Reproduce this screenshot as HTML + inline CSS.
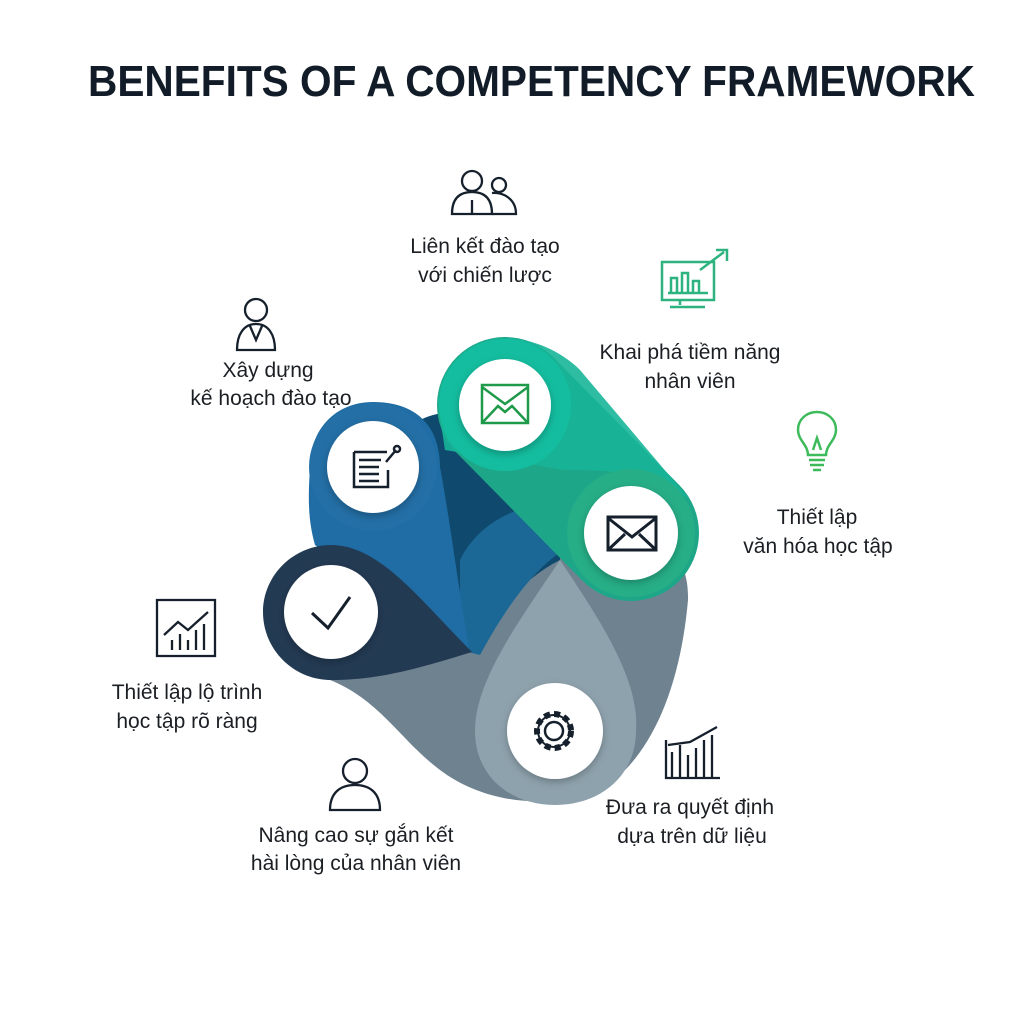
<!DOCTYPE html>
<html><head><meta charset="utf-8"><style>
html,body{margin:0;padding:0;background:#fff;}
svg{display:block}
text{font-family:"Liberation Sans",sans-serif;}
</style></head><body>
<svg width="1024" height="1024" viewBox="0 0 1024 1024" xmlns="http://www.w3.org/2000/svg">
<defs>
<filter id="sh" x="-30%" y="-30%" width="160%" height="160%"><feDropShadow dx="0" dy="3" stdDeviation="4" flood-color="#000" flood-opacity="0.25"/></filter>
<linearGradient id="gr" x1="0" y1="0" x2="1" y2="1"><stop offset="0" stop-color="#14c2a3"/><stop offset="1" stop-color="#2bb083"/></linearGradient>
</defs>
<rect width="1024" height="1024" fill="#fff"/>
<text x="88" y="96" font-size="44" font-weight="bold" fill="#111c28" textLength="887" lengthAdjust="spacingAndGlyphs">BENEFITS OF A COMPETENCY FRAMEWORK</text>

<!-- back gray blob -->
<path d="M330,680 C380,700 400,740 440,770 C480,800 540,812 600,790 C650,760 680,690 688,600 C690,540 640,520 590,540 C520,560 460,620 420,650 C390,670 350,665 330,680 Z" fill="#6f8290"/>
<!-- dark blue middle -->
<path d="M420,420 C460,400 520,420 560,460 L560,560 C520,580 490,620 470,650 L430,640 C420,580 420,480 420,420 Z" fill="#0f4a6e"/>
<path d="M460,560 C480,520 520,505 560,500 L580,540 C540,560 510,600 480,655 L460,650 Z" fill="#1b6897"/>
<!-- blue teardrop -->
<path d="M373,402 C420,402 440,430 440,467 C450,520 460,600 470,652 L315,545 C308,520 308,500 310,467 C310,430 335,402 373,402 Z" fill="#1f6da4"/>
<circle cx="373" cy="467" r="64" fill="#236fa6"/>
<!-- navy teardrop -->
<path d="M331,545 C380,545 420,600 472,652 C420,668 380,680 331,680 C294,680 263,650 263,612 C263,575 294,545 331,545 Z" fill="#233a53"/>
<!-- light gray teardrop -->
<path d="M560,560 C600,620 640,680 636,731 C636,776 600,805 555,805 C510,805 475,776 475,731 C475,680 520,620 560,560 Z" fill="#8ea2ad"/>
<!-- green capsule -->
<line x1="505" y1="405" x2="631" y2="533" stroke="#1ea688" stroke-width="136" stroke-linecap="round"/>
<path d="M445,450 L565,470 C600,470 650,470 690,500 L580,370 C560,350 530,338 505,338 C468,338 438,368 438,405 Z" fill="#17b598" opacity="0.9"/>
<circle cx="505" cy="405" r="66" fill="#14bd9f"/>
<circle cx="631" cy="533" r="64" fill="#26ae87"/>
<!-- white circles -->
<g filter="url(#sh)" fill="#fff">
<circle cx="505" cy="405" r="46"/><circle cx="631" cy="533" r="47"/>
<circle cx="373" cy="467" r="46"/><circle cx="331" cy="612" r="47"/><circle cx="555" cy="731" r="48"/>
</g>
<!-- icons in circles -->
<g fill="none" stroke-width="2.5">
<rect x="482" y="385" width="46" height="38" stroke="#1e9a4a"/><path d="M482,387 L505,404 L528,387 M482,423 L498,406 L505,412 L512,406 L528,423" stroke="#1e9a4a"/>
<rect x="608" y="517" width="48" height="33" stroke="#15202c" stroke-width="3"/><path d="M608,518 L632,537 L656,518 M608,550 L625,534 M656,550 L639,534" stroke="#15202c" stroke-width="3"/>
<path d="M354,452 H387 M354,452 V487 H388 V470 M359,460 H381 M359,467 H379 M359,474 H379 M359,481 H379" stroke="#15202c"/><path d="M386,462 L396,450" stroke="#15202c"/><circle cx="397" cy="449" r="3" stroke="#15202c"/>
<path d="M312,613 L328,628 L350,597" stroke="#15202c" stroke-width="3"/>
<circle cx="554" cy="731" r="9" stroke="#15202c"/><circle cx="554" cy="731" r="17" stroke="#15202c" stroke-dasharray="6 4" stroke-width="6"/><circle cx="554" cy="731" r="16" stroke="#15202c" stroke-width="2"/>
</g>
<!-- outer icons -->
<g fill="none" stroke="#15202c" stroke-width="2.3">
<circle cx="472" cy="181" r="10"/><path d="M452,214 C452,198 460,192 472,192 C484,192 492,198 492,214 Z M472,200 V214"/>
<circle cx="499" cy="185" r="7"/><path d="M492,193 C502,192 516,198 516,214 H492"/>
<circle cx="256" cy="310" r="11"/><path d="M237,350 C237,334 244,324 256,324 C268,324 275,334 275,350 Z M250,326 L256,340 L262,326"/>
<path d="M157,600 H215 V656 H157 Z M164,635 L178,622 L188,630 L208,612 M172,650 V640 M180,650 V634 M188,650 V640 M196,650 V630 M204,650 V624"/>
<circle cx="355" cy="771" r="12"/><path d="M330,810 C330,793 340,785 355,785 C370,785 380,793 380,810 Z"/>
<path d="M666,740 V778 H720 M672,778 V752 M680,778 V745 M688,778 V755 M696,778 V748 M704,778 V740 M712,778 V735 M668,745 L690,742 L717,727"/>
</g>
<g fill="none" stroke="#2db37f" stroke-width="2.5">
<rect x="662" y="262" width="52" height="38"/><path d="M680,300 V305 M670,307 H705 M668,293 H708 M671,293 V278 H677 V293 M682,293 V273 H688 V293 M693,293 V281 H699 V293 M700,270 L724,252 M716,250 H727 V261"/>
</g>
<g fill="none" stroke="#3dbb5a" stroke-width="2.5">
<path d="M808,455 C808,445 798,440 798,430 C798,419 807,412 817,412 C827,412 836,419 836,430 C836,440 826,445 826,455 Z M809,460 H825 M810,465 H824 M813,470 H821 M813,450 L817,438 L821,450"/>
</g>
<g font-size="21" fill="#1b1f24" text-anchor="middle">
<text x="485" y="253">Liên kết đào tạo</text><text x="485" y="282">với chiến lược</text>
<text x="690" y="359">Khai phá tiềm năng</text><text x="690" y="388">nhân viên</text>
<text x="268" y="377">Xây dựng</text><text x="271" y="405">kế hoạch đào tạo</text>
<text x="817" y="524">Thiết lập</text><text x="818" y="553">văn hóa học tập</text>
<text x="187" y="699">Thiết lập lộ trình</text><text x="187" y="728">học tập rõ ràng</text>
<text x="356" y="842">Nâng cao sự gắn kết</text><text x="356" y="870">hài lòng của nhân viên</text>
<text x="690" y="814">Đưa ra quyết định</text><text x="692" y="843">dựa trên dữ liệu</text>
</g>
</svg>
</body></html>
